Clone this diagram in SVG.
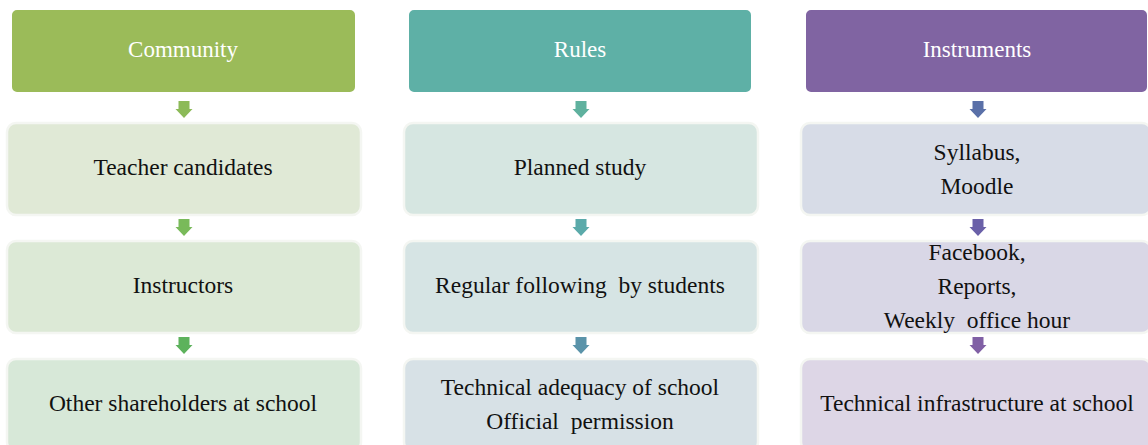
<svg xmlns="http://www.w3.org/2000/svg" width="1148" height="445" viewBox="0 0 1148 445">
<style>
.hd{stroke:#fff;stroke-width:2}
.sb{stroke:#f4f6f2;stroke-width:2.5}
.ht{font-family:"Liberation Serif","Times New Roman",serif;font-size:23px;fill:#fff;text-anchor:middle}
.t{font-family:"Liberation Serif","Times New Roman",serif;font-size:23.5px;fill:#111;text-anchor:middle;white-space:pre}
</style>
<defs>
<path id="ar" d="M-5.5,0 h11 v8 h3 l-8.5,9 l-8.5,-9 h3 z"/>
</defs>
<rect width="1148" height="445" fill="#fff"/>
<g id="community"><rect class="hd" x="11" y="9" width="345" height="84" rx="6" fill="#9BBB59"/><text class="ht" x="183" y="57">Community</text></g>
<g id="rules"><rect class="hd" x="408" y="9" width="344" height="84" rx="6" fill="#5EB0A6"/><text class="ht" x="580" y="57">Rules</text></g>
<g id="instruments"><rect class="hd" x="805" y="9" width="343" height="84" rx="6" fill="#8064A2"/><text class="ht" x="977" y="57">Instruments</text></g>

<g id="teacher-candidates"><rect class="sb" x="7" y="123" width="354" height="92" rx="9" fill="#E0E9D6"/><text class="t" x="183" y="175">Teacher candidates</text></g>
<g id="instructors"><rect class="sb" x="7" y="241" width="354" height="92" rx="9" fill="#DCE9D6"/><text class="t" x="183" y="293">Instructors</text></g>
<g id="other-shareholders"><rect class="sb" x="7" y="359" width="354" height="92" rx="9" fill="#D7E8D8"/><text class="t" x="183" y="411">Other shareholders at school</text></g>

<g id="planned-study"><rect class="sb" x="404" y="123" width="354" height="92" rx="9" fill="#D6E6E1"/><text class="t" x="580" y="175">Planned study</text></g>
<g id="regular-following"><rect class="sb" x="404" y="241" width="354" height="92" rx="9" fill="#D6E4E4"/><text class="t" x="580" y="293">Regular following  by students</text></g>
<g id="technical-adequacy"><rect class="sb" x="404" y="359" width="354" height="92" rx="9" fill="#D7E1E6"/><text class="t" x="580" y="395">Technical adequacy of school</text><text class="t" x="580" y="429">Official  permission</text></g>

<g id="syllabus"><rect class="sb" x="801" y="123" width="350" height="92" rx="9" fill="#D7DCE7"/><text class="t" x="977" y="160">Syllabus,</text><text class="t" x="977" y="194">Moodle</text></g>
<g id="facebook"><rect class="sb" x="801" y="241" width="350" height="92" rx="9" fill="#D9D7E6"/><text class="t" x="977" y="260">Facebook,</text><text class="t" x="977" y="294">Reports,</text><text class="t" x="977" y="328">Weekly  office hour</text></g>
<g id="technical-infrastructure"><rect class="sb" x="801" y="359" width="350" height="92" rx="9" fill="#DDD6E6"/><text class="t" x="977" y="411">Technical infrastructure at school</text></g>

<g id="connectors">
<use href="#ar" x="184" y="101" fill="#8CBA58"/>
<use href="#ar" x="184" y="219" fill="#79BA5A"/>
<use href="#ar" x="184" y="337" fill="#5DB25C"/>
<use href="#ar" x="581" y="101" fill="#5FB19E"/>
<use href="#ar" x="581" y="219" fill="#5BAAAA"/>
<use href="#ar" x="581" y="337" fill="#5A93A9"/>
<use href="#ar" x="978" y="101" fill="#5A70A8"/>
<use href="#ar" x="978" y="219" fill="#6A60A8"/>
<use href="#ar" x="978" y="337" fill="#8060A5"/>
</g>
</svg>
